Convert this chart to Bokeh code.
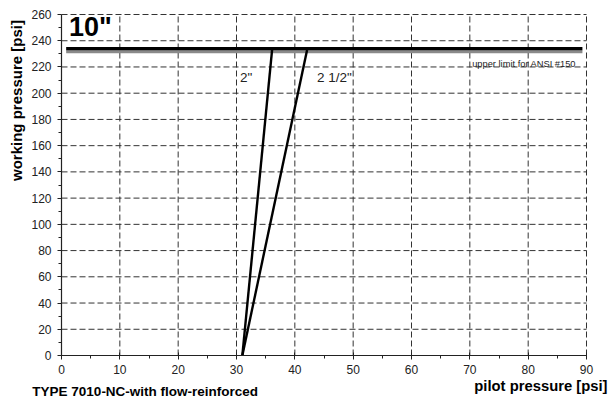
import math
from bokeh.plotting import figure
from bokeh.models import FixedTicker, Label, Range1d
from bokeh.embed import file_html
from bokeh.resources import INLINE

# ---- data ----
x_ticks = [0, 10, 20, 30, 40, 50, 60, 70, 80, 90]
y_ticks = [0, 20, 40, 60, 80, 100, 120, 140, 160, 180, 200, 220, 240, 260]
x_minor = [5, 15, 25, 35, 45, 55, 65, 75, 85]
y_minor = [10, 30, 50, 70, 90, 110, 130, 150, 170, 190, 210, 230, 250]
line_2in_x = [31, 36.1]
line_2in_y = [0, 233]
line_25in_x = [31, 42.1]
line_25in_y = [0, 233]
limit_x = [0.8, 89.3]
limit_y = [233.8, 233.8]
limit_shadow_y = [231.5, 231.5]

FONT = "Liberation Sans"

p = figure(width=608, height=404, output_backend="svg", toolbar_location=None,
           x_range=Range1d(-10.457, 93.77), y_range=Range1d(-37.36, 270.68),
           min_border_left=0, min_border_right=0, min_border_top=0, min_border_bottom=0)
p.outline_line_color = None
p.grid.visible = False

# axes crossing at 0
p.xaxis.fixed_location = 0
p.yaxis.fixed_location = 0
p.xaxis.bounds = (0, 90)
p.yaxis.bounds = (0, 260)
p.xaxis.ticker = FixedTicker(ticks=x_ticks, minor_ticks=x_minor)
p.yaxis.ticker = FixedTicker(ticks=y_ticks, minor_ticks=y_minor)
for ax in (p.xaxis[0], p.yaxis[0]):
    ax.axis_line_color = "#222222"
    ax.axis_line_width = 1.2
    ax.major_tick_line_color = "#222222"
    ax.minor_tick_line_color = "#222222"
    ax.major_label_text_font = FONT
    ax.major_label_text_font_size = "12px"
    ax.major_label_text_color = "#222222"
    ax.minor_tick_in = 0
    ax.minor_tick_out = 3
p.xaxis.major_tick_in = 3
p.xaxis.major_tick_out = 4
p.xaxis.major_label_standoff = 5
p.yaxis.major_tick_in = 0
p.yaxis.major_tick_out = 4
p.yaxis.major_label_standoff = 6

# dashed grid from the tick arrays
ytop = max(y_ticks)
xright = max(x_ticks)
vx = x_ticks[1:]
p.segment(x0=vx, y0=[0] * len(vx), x1=vx, y1=[ytop] * len(vx),
          line_color="#333333", line_width=1, line_dash="6 3")
hy = y_ticks[1:]
p.segment(x0=[0] * len(hy), y0=hy, x1=[xright] * len(hy), y1=hy,
          line_color="#333333", line_width=1, line_dash="6 3")

# limit lines
p.line(limit_x, limit_shadow_y, line_color="#8a8a8a", line_width=2.5)
p.line(limit_x, limit_y, line_color="black", line_width=3.5)

# valve lines
p.line(line_2in_x, line_2in_y, line_color="black", line_width=2.4)
p.line(line_25in_x, line_25in_y, line_color="black", line_width=2.4)

# annotations
p.add_layout(Label(x=1.3, y=238.7, text='10"', text_font=FONT, text_font_style="bold",
                   text_font_size="27px", text_color="black"))
p.add_layout(Label(x=30.6, y=205.9, text='2"', text_font=FONT, text_font_size="13.5px",
                   text_color="#222222"))
p.add_layout(Label(x=43.8, y=205.9, text='2 1/2"', text_font=FONT, text_font_size="13.5px",
                   text_color="#222222"))
p.add_layout(Label(x=70.4, y=218.8, text='upper limit for ANSI #150', text_font=FONT,
                   text_font_size="9.3px", text_color="#222222"))

p.add_layout(Label(x=-7.7, y=194.4, text="working pressure [psi]", angle=math.pi / 2,
                   text_align="center", text_baseline="middle", text_font=FONT,
                   text_font_style="bold", text_font_size="15px", text_color="black"))
p.add_layout(Label(x=93.6, y=-29.5, text="pilot pressure [psi]", text_align="right",
                   text_font=FONT, text_font_style="bold", text_font_size="14.8px",
                   text_color="black"))
p.add_layout(Label(x=-5.0, y=-33.5, text="TYPE 7010-NC-with flow-reinforced",
                   text_font=FONT, text_font_style="bold", text_font_size="13.5px",
                   text_color="black"))

open("out.html", "w").write(file_html(p, INLINE))
